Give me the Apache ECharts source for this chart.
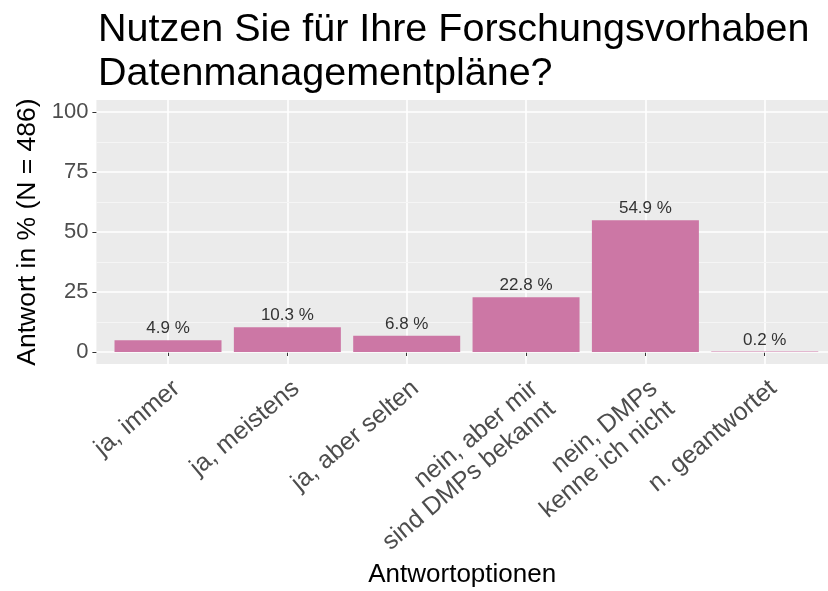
<!DOCTYPE html>
<html>
<head>
<meta charset="utf-8">
<script src="https://cdn.jsdelivr.net/npm/echarts@6/dist/echarts.min.js"></script>
<style>html,body{margin:0;padding:0;background:#fff}#c{width:828px;height:591px}</style>
</head>
<body>
<div id="c"></div>
<script>
const titleText = 'Nutzen Sie für Ihre Forschungsvorhaben\nDatenmanagementpläne?';
const categories = ['ja, immer', 'ja, meistens', 'ja, aber selten', 'nein, aber mir\nsind DMPs bekannt', 'nein, DMPs\nkenne ich nicht', 'n. geantwortet'];
const values = [4.9, 10.3, 6.8, 22.8, 54.9, 0.2];
const yTicks = [0, 25, 50, 75, 100];
const yMinor = [12.5, 37.5, 62.5, 87.5];
const xPos = categories.map((c, i) => i + 1);

const FONT = '"Liberation Sans", Arial, sans-serif';
const chart = echarts.init(document.getElementById('c'));
chart.setOption({
  backgroundColor: '#ffffff',
  animation: false,
  title: {
    text: titleText,
    left: 93, top: 3,
    textStyle: { fontFamily: FONT, fontSize: 39.5, fontWeight: 'normal', color: '#000', lineHeight: 44 }
  },
  grid: {
    left: 96.4, top: 100, right: 0, height: 264,
    show: true, backgroundColor: '#EBEBEB', borderWidth: 0
  },
  xAxis: {
    type: 'value', min: 0.4, max: 6.53,
    name: 'Antwortoptionen', nameLocation: 'middle', nameGap: 198,
    nameTextStyle: { fontFamily: FONT, fontSize: 26, color: '#000' },
    axisLine: { show: false },
    axisTick: { show: true, length: 4, customValues: xPos, lineStyle: { color: '#333', width: 1 } },
    axisLabel: {
      customValues: xPos, rotate: 40, margin: 11,
      align: 'right', verticalAlign: 'top',
      fontFamily: FONT, fontSize: 25, color: '#4D4D4D', lineHeight: 27,
      formatter: v => categories[Math.round(v) - 1] || ''
    },
    splitLine: { show: true, lineStyle: { color: '#ffffff', width: 1.6 } }
  },
  yAxis: [{
    type: 'value', min: -5, max: 105,
    name: 'Antwort in % (N = 486)', nameLocation: 'middle', nameGap: 54, nameRotate: 90,
    nameTextStyle: { fontFamily: FONT, fontSize: 26.5, color: '#000' },
    axisLine: { show: false },
    axisTick: { show: true, length: 4, customValues: yTicks, lineStyle: { color: '#333', width: 1 } },
    axisLabel: { customValues: yTicks, margin: 8, fontFamily: FONT, fontSize: 22, color: '#4D4D4D' },
    splitLine: { show: true, lineStyle: { color: '#ffffff', width: 1.6 } },
    z: 2
  }, {
    type: 'value', min: -5, max: 105, position: 'left',
    axisLine: { show: false },
    axisTick: { show: false, customValues: yMinor },
    axisLabel: { show: false, customValues: yMinor },
    splitLine: { show: true, lineStyle: { color: '#F5F5F5', width: 1 } },
    z: 1
  }],
  series: [{
    type: 'bar',
    yAxisIndex: 0,
    barWidth: 107,
    data: xPos.map((x, i) => [x, values[i]]),
    itemStyle: { color: '#CC77A5' },
    label: {
      show: true, position: 'top', distance: 3,
      fontFamily: FONT, fontSize: 17, color: '#333',
      formatter: p => p.value[1].toFixed(1) + ' %'
    },
    z: 5
  }]
});
</script>
</body>
</html>
